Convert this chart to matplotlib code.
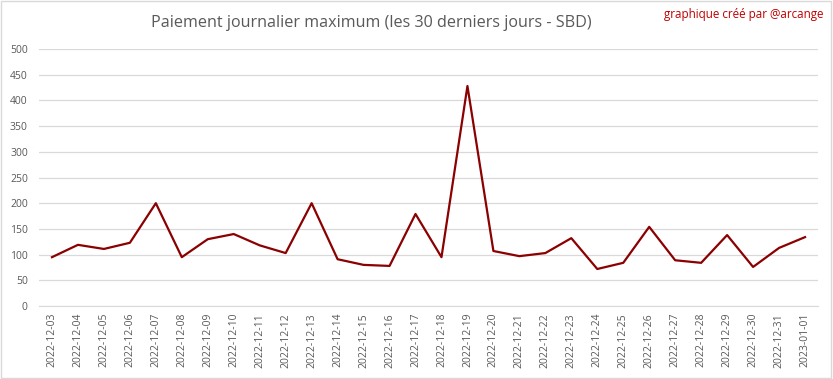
import matplotlib.pyplot as plt
import matplotlib.patches as mpatches

dates = [
    "2022-12-03", "2022-12-04", "2022-12-05", "2022-12-06", "2022-12-07",
    "2022-12-08", "2022-12-09", "2022-12-10", "2022-12-11", "2022-12-12",
    "2022-12-13", "2022-12-14", "2022-12-15", "2022-12-16", "2022-12-17",
    "2022-12-18", "2022-12-19", "2022-12-20", "2022-12-21", "2022-12-22",
    "2022-12-23", "2022-12-24", "2022-12-25", "2022-12-26", "2022-12-27",
    "2022-12-28", "2022-12-29", "2022-12-30", "2022-12-31", "2023-01-01",
]
payout = [
    95, 119, 111, 123, 200, 95, 130, 140, 118, 103,
    200, 91, 80, 78, 179, 95, 428, 107, 97, 103,
    132, 72, 84, 154, 89, 84, 138, 76, 113, 134,
]
y_ticks = [0, 50, 100, 150, 200, 250, 300, 350, 400, 450, 500]

plt.rcParams["font.family"] = ["Open Sans", "DejaVu Sans"]
GRAY = "#595959"

fig = plt.figure(figsize=(8.33, 3.79), dpi=100)
fig.patches.append(mpatches.Rectangle((0.001, 0.002), 0.997, 0.995, transform=fig.transFigure,
                                      fill=False, edgecolor="#D9D9D9", linewidth=1))
ax = fig.add_axes([0.0468, 0.1926, 0.9352, 0.6781])

x = range(len(dates))
ax.plot(x, payout, color="#8B0000", linewidth=1.6)

ax.set_xlim(-0.5, len(dates) - 0.5)
ax.set_ylim(0, 500)
ax.set_yticks(y_ticks)
ax.set_xticks(list(x))
ax.set_xticklabels(dates, rotation=90)
ax.tick_params(axis="both", length=0, colors=GRAY, labelsize=7.5)
ax.tick_params(axis="x", pad=5)
ax.tick_params(axis="y", pad=8)
ax.grid(axis="y", color="#D9D9D9", linewidth=0.9)
ax.set_axisbelow(True)
for s in ["top", "right", "left"]:
    ax.spines[s].set_visible(False)
ax.spines["bottom"].set_color("#D9D9D9")

fig.text(0.446, 0.938, "Paiement journalier maximum (les 30 derniers jours - SBD)",
         ha="center", va="center", fontsize=11.6, color=GRAY)
fig.text(0.988, 0.962, "graphique créé par @arcange", ha="right", va="center",
         fontsize=8.4, color="#C00000")

fig.savefig("out.png", dpi=100)
